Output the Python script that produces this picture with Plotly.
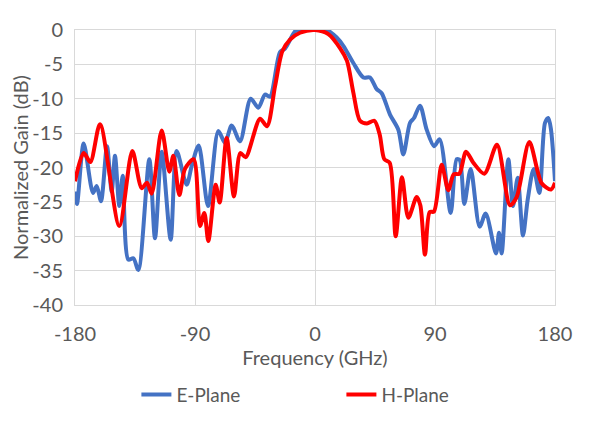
import plotly.graph_objects as go

# E-Plane (blue) digitized
e_freq = [-180, -178.5, -173.5, -166.5, -163.75, -160.5, -156, -152.5, -150, -146.75, -144.25,
          -140, -136.25, -132.5, -124.25, -120, -115, -108.25, -103.75, -96.25, -92.5, -87.25,
          -80.25, -72.5, -67.5, -62.5, -56.25, -48.25, -42.5, -37.5, -33.75, -26.25, -22.5,
          -15, -12.5, 0, 8.75, 16.25, 21.25, 28.75, 36.25, 41.25, 46.25, 50, 56.25, 62.5,
          66.25, 71.25, 74.25, 78.75, 83.75, 89.25, 93.5, 101.75, 106.25, 108.5, 112, 116.75,
          123.5, 128, 135.75, 138, 140, 145, 148.5, 152, 156, 159.5, 164, 168.25, 172.5, 175,
          177, 180]
e_gain = [-23.5, -25.3, -16.5, -23.7, -22.7, -24.9, -16.9, -23.5, -18.3, -25.6, -21.2,
          -33.4, -33.2, -34.9, -18.8, -30.3, -17.7, -30.5, -17.6, -22.5, -19.8, -16.8,
          -25.6, -14.7, -16.4, -13.9, -16.2, -10.0, -11.3, -9.4, -9.7, -3.2, -2.7,
          -0.2, 0, 0, 0, -1.1, -2.3, -4.8, -6.9, -6.9, -8.6, -9.2, -12.3, -14.5,
          -18.1, -13.5, -12.8, -11.0, -14.5, -16.9, -15.9, -26.6, -18.8, -18.9, -25.3, -20.2,
          -28.6, -26.7, -32.5, -29.5, -32.5, -18.8, -25.6, -21.5, -29.9, -24.7, -20.2, -23.7, -13.5, -12.8,
          -14.5, -22.0]

# H-Plane (red) digitized
h_freq = [-180, -173.5, -168.5, -161.25, -146.75, -137, -130, -126, -122.5, -115, -109.25,
          -106.25, -101.75, -97.5, -91, -86.25, -83, -80, -74.5, -71.5, -66.25, -60.75, -56,
          -52, -41.25, -36, -30, -24.5, -18.75, -11.25, 0, 10, 19, 24, 28.75, 33.75, 39, 44.5,
          48.5, 52, 56, 60.5, 65.25, 70, 76.25, 79, 82.5, 86, 89.25, 95, 100, 104, 108.25,
          113.25, 118.75, 127, 136.5, 146.25, 151.25, 160.75, 170, 177, 180]
h_gain = [-22.0, -17.9, -19.2, -13.7, -28.5, -17.6, -23.0, -22.2, -23.8, -14.6, -20.6,
          -18.3, -24.0, -20.2, -18.8, -28.5, -26.6, -30.7, -22.5, -25.1, -15.7, -24.2, -17.9,
          -18.5, -12.9, -14.0, -8.2, -3.1, -1.4, -0.4, 0, -0.6, -2.7, -4.5, -9.1, -13.2, -13.6, -13.2,
          -15.2, -18.8, -19.3, -30.0, -21.4, -27.3, -24.3, -25.5, -32.7, -26.5, -26.4, -19.6, -23.3, -21.0, -20.9,
          -17.7, -19.3, -20.9, -16.7, -25.5, -24.3, -16.3, -22.3, -23.2, -22.2]

x_ticks = [-180, -90, 0, 90, 180]
x_ticktext = ["-180", "-90", "0", "90", "180"]
y_ticks = [0, -5, -10, -15, -20, -25, -30, -35, -40]
y_ticktext = ["0", "-5", "-10", "-15", "-20", "-25", "-30", "-35", "-40"]

FONT = "Lato"
GRID = "#D9D9D9"
TXT = "#595959"

fig = go.Figure()
fig.add_trace(go.Scatter(x=e_freq, y=e_gain, mode="lines", name="E-Plane",
                         line=dict(color="#4472C4", width=4, shape="spline", smoothing=0.8)))
fig.add_trace(go.Scatter(x=h_freq, y=h_gain, mode="lines", name="H-Plane",
                         line=dict(color="#FF0000", width=4, shape="spline", smoothing=0.8)))

fig.update_layout(
    width=600, height=437,
    margin=dict(l=67, r=53, t=22, b=140, autoexpand=False),
    paper_bgcolor="white", plot_bgcolor="white",
    font=dict(family=FONT, size=20, color=TXT),
    xaxis=dict(range=[-180, 180], tickvals=x_ticks, ticktext=x_ticktext, showgrid=True, gridcolor=GRID,
               zeroline=False, showline=True, linecolor=GRID, mirror=True, automargin=False,
               ticks="", ticklabelstandoff=11,
               title=dict(text="Frequency (GHz)", standoff=6, font=dict(size=20, color=TXT))),
    yaxis=dict(range=[-40, 0], tickvals=y_ticks, ticktext=y_ticktext, showgrid=True, gridcolor=GRID,
               zeroline=False, showline=True, linecolor=GRID, mirror=True, automargin=False,
               ticks="", ticklabelstandoff=7,
               title=dict(text="Normalized Gain (dB)", standoff=6, font=dict(size=20, color=TXT))),
    legend=dict(orientation="h", xref="container", yref="container", x=0.214, y=0.115,
                xanchor="left", yanchor="middle", entrywidth=160, entrywidthmode="pixels",
                font=dict(size=19, color=TXT)),
)

fig.write_html("out.html")
